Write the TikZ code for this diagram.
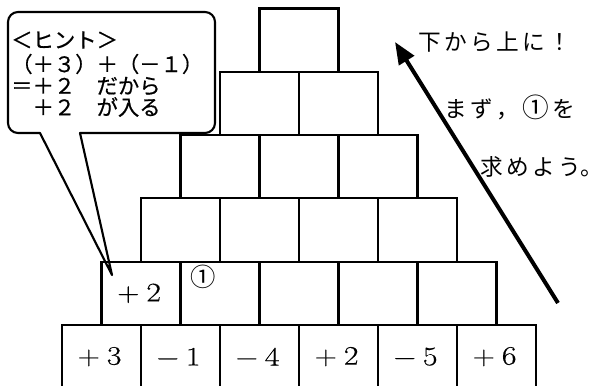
\documentclass[tikz,border=0pt]{standalone}
\usepackage{fontspec}
\usepackage{graphicx}
\newfontfamily\jpf{Noto Sans CJK JP}
\newfontfamily\jpfb[FakeBold=0.6]{Noto Sans CJK JP}
\newfontfamily\numf[FakeBold=0.4]{Latin Modern Roman}
\usetikzlibrary{arrows.meta}
\newcommand{\lsA}{\kern2.5pt}
\newcommand{\cellnum}[2]{\raisebox{-1.5pt}{\makebox[19pt]{\scalebox{1.15}[1]{#1}}\makebox[19pt]{\scalebox{1.2}[1]{#2}}}}
\tikzset{
  cellbox/.style={draw, line width=1.6pt, minimum width=59.25pt, minimum height=47.475pt,
    inner sep=0pt, anchor=center, font=\fontsize{20pt}{20pt}\selectfont\numf},
  hinttxt/.style={anchor=west, inner sep=0pt, font=\fontsize{16pt}{18pt}\selectfont\jpfb},
  sidetxt/.style={anchor=west, inner sep=0pt, font=\fontsize{17pt}{18pt}\selectfont\jpf},
  bubble/.style={draw, line width=1.6pt, line join=round},
  bigarrow/.style={line width=3pt, -{Triangle[length=16.5pt,width=13pt]}}
}
\begin{document}
\begin{tikzpicture}[x=0.75pt,y=-0.75pt]
\useasboundingbox (0,0) rectangle (598,385);
% row 1
\foreach \j/\s/\d in {1/+/3,2/−/1,3/−/4,4/+/2,5/−/5,6/+/6}{
  \node[cellbox] (b1\j) at ({62+(\j-0.5)*79},{325+31.65}) {\cellnum{\s}{\d}};
}
% row 2
\node[cellbox] (b21) at ({101.5+0.5*79},{261.7+31.65}) {\cellnum{+}{2}};
\foreach \j in {2,...,5}{
  \node[cellbox] (b2\j) at ({101.5+(\j-0.5)*79},{261.7+31.65}) {};
}
% rows 3-6
\foreach \k in {3,...,6}{
  \pgfmathtruncatemacro\nn{7-\k}
  \foreach \j in {1,...,\nn}{
    \node[cellbox] (b\k\j) at ({62+(\k-1)*39.5+(\j-0.5)*79},{325-(\k-1)*63.3+31.65}) {};
  }
}
\node[inner sep=0pt, font=\fontsize{19pt}{20pt}\selectfont\jpf] (c1) at ([xshift=17.6pt,yshift=-12pt]b22.north west) {①};
% bubble
\coordinate (tip) at (112,275);
\draw[bubble] (40,133) [rounded corners=7.5pt] -- (8,133) -- (8,12) -- (215,12) -- (215,133) -- (125,133) [sharp corners] -- (80,133) -- (tip) -- cycle;
\node[hinttxt] (h1) at (11,40) {＜ヒント＞};
\node[hinttxt] (h2) at (11,64) {（＋３）＋（－１）};
\node[hinttxt] (h3) at (11,86) {＝＋２　だから};
\node[hinttxt] (h4) at (11,107) {　＋２　が入る};
% arrow
\coordinate (as) at (558,303);
\coordinate (ae) at (395,42);
\draw[bigarrow] (as) -- (ae);
% side texts
\node[sidetxt] (s1) at (418,42) {下\lsA か\lsA ら\lsA 上\lsA に\lsA ！};
\node[sidetxt] (s2) at (444,107) {ま\lsA ず\lsA ，\lsA {\fontsize{20pt}{20pt}\selectfont ①}\lsA を};
\node[sidetxt] (s3) at (480,167) {求\lsA め\lsA よ\lsA う\makebox[0.45em][l]{。}};
\end{tikzpicture}
\end{document}
